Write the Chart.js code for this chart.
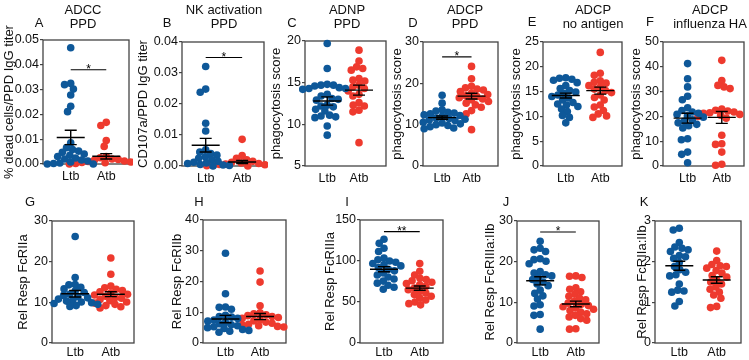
<!DOCTYPE html>
<html>
<head>
<meta charset="utf-8">
<script src="https://cdn.jsdelivr.net/npm/chart.js@4.4.1/dist/chart.umd.min.js"></script>
<style>
  html, body { margin: 0; padding: 0; background: #fff; }
  #fig { position: relative; width: 749px; height: 360px; overflow: hidden; background: #fff; }
  #fig canvas { position: absolute; }
</style>
</head>
<body>
<div id="fig"></div>
<script>
'use strict';

const groups = ['Ltb', 'Atb'];

// A - ADCC PPD
const aLtb = [0.0469, 0.0325, 0.032, 0.0302, 0.0278, 0.0233, 0.0211, 0.0085, 0.0066, 0.0058, 0.0052, 0.0047, 0.004, 0.0035, 0.003, 0.0024, 0.002, 0.0016, 0.0012, 0.0008, 0.0004, 0.0002, 0.0, 0.0];
const aAtb = [0.0168, 0.0155, 0.0095, 0.0071, 0.003, 0.0025, 0.002, 0.0018, 0.0015, 0.0012, 0.001, 0.0008, 0.0006, 0.0005, 0.0003, 0.0002, 0.0001, 0.0];
const aMean = [0.0107, 0.0031];
const aSem = [0.0029, 0.0011];
const aTicks = [0, 0.01, 0.02, 0.03, 0.04, 0.05];

// B - NK activation PPD
const bLtb = [0.0321, 0.0248, 0.0238, 0.0138, 0.0113, 0.0052, 0.0045, 0.004, 0.0035, 0.003, 0.0025, 0.002, 0.0015, 0.0012, 0.001, 0.0008, 0.0005, 0.0003, 0.0002, 0.0];
const bAtb = [0.0086, 0.0034, 0.0025, 0.002, 0.0015, 0.0012, 0.001, 0.0008, 0.0006, 0.0005, 0.0004, 0.0003, 0.0002, 0.0001, 0.0, 0.0];
const bMean = [0.0067, 0.0013];
const bSem = [0.0022, 0.0005];
const bTicks = [0, 0.01, 0.02, 0.03, 0.04];

// C - ADNP PPD
const cLtb = [19.7, 16.7, 14.8, 14.7, 14.7, 14.6, 14.4, 14.3, 14.3, 14.2, 13.6, 13.4, 13.1, 13.0, 12.9, 12.3, 12.2, 12.1, 11.8, 11.6, 11.1, 11.0, 10.9, 10.8, 9.8, 8.7];
const cAtb = [18.9, 17.6, 16.9, 16.7, 16.5, 15.5, 15.3, 15.2, 14.7, 14.5, 14.3, 14.0, 13.6, 13.4, 12.6, 12.3, 12.2, 11.7, 11.5, 7.8];
const cMean = [12.8, 14.1];
const cSem = [0.5, 0.6];
const cTicks = [5, 10, 15, 20];

// D - ADCP PPD
const dLtb = [17.1, 15.2, 13.6, 13.3, 13.0, 12.8, 12.6, 12.4, 12.2, 12.0, 11.8, 11.6, 11.5, 11.3, 11.1, 11.0, 10.8, 10.6, 10.4, 10.2, 10.0, 9.8, 9.5, 9.2, 9.0];
const dAtb = [24.1, 21.1, 19.3, 18.9, 18.6, 18.4, 18.0, 17.6, 17.3, 17.0, 16.8, 16.5, 16.2, 16.0, 15.6, 15.2, 14.8, 14.2, 13.4, 12.6, 8.8];
const dMean = [11.7, 16.9];
const dSem = [0.4, 0.7];
const dTicks = [0, 10, 20, 30];

// E - ADCP no antigen
const eLtb = [17.8, 17.7, 17.5, 17.3, 16.8, 16.2, 15.6, 15.2, 14.9, 14.6, 14.3, 14.0, 13.7, 13.3, 12.8, 12.5, 12.3, 12.0, 11.5, 11.0, 10.2, 9.8, 8.7];
const eAtb = [22.9, 18.7, 18.3, 17.2, 16.9, 16.7, 16.2, 15.9, 15.5, 15.2, 14.8, 14.3, 13.8, 13.3, 12.3, 11.9, 11.2, 10.5, 10.1, 9.8];
const eMean = [14.2, 15.2];
const eSem = [0.5, 0.7];
const eTicks = [0, 5, 10, 15, 20, 25];

// F - ADCP influenza HA
const fLtb = [41.3, 35.2, 31.9, 28.1, 26.7, 23.5, 22.4, 21.8, 21.3, 20.8, 20.2, 19.7, 18.6, 18.0, 17.4, 16.8, 16.2, 15.3, 11.0, 10.6, 5.6, 4.7, 1.3];
const fAtb = [42.6, 34.5, 32.5, 31.9, 31.2, 23.0, 22.5, 22.2, 21.8, 21.5, 21.2, 20.8, 20.5, 20.0, 19.3, 12.4, 9.0, 8.7, 5.6, 0.7, 0.3];
const fMean = [19.3, 19.6];
const fSem = [2.0, 2.4];
const fTicks = [0, 10, 20, 30, 40, 50];

// G - FcRIIa
const gLtb = [26.2, 16.1, 14.4, 14.3, 13.7, 13.3, 12.8, 12.4, 12.0, 11.7, 11.4, 11.1, 10.8, 10.5, 10.3, 10.1, 9.9, 9.7, 9.5, 9.2, 9.0];
const gAtb = [20.9, 16.9, 14.0, 13.6, 13.2, 12.9, 12.6, 12.3, 12.0, 11.8, 11.5, 11.2, 11.0, 10.7, 10.4, 10.1, 9.8, 9.5, 9.2, 8.9, 8.6];
const gMean = [12.1, 12.0];
const gSem = [0.8, 0.6];
const gTicks = [0, 10, 20, 30];

// H - FcRIIb
const hLtb = [29.2, 16.0, 11.7, 11.6, 11.0, 9.0, 8.6, 8.4, 8.0, 7.5, 7.1, 6.7, 6.3, 5.9, 5.6, 5.3, 5.0, 4.7, 4.4, 4.1, 3.8, 3.5];
const hAtb = [23.4, 19.8, 12.1, 9.8, 9.5, 9.2, 8.9, 8.6, 8.3, 8.0, 7.6, 7.2, 6.8, 6.4, 6.1, 5.8, 5.6, 5.4, 5.2];
const hMean = [7.8, 8.6];
const hSem = [1.2, 1.0];
const hTicks = [0, 10, 20, 30, 40];

// I - FcRIIIa
const iLtb = [126.5, 121.5, 115.5, 111.5, 103.5, 101.5, 100.0, 98.5, 97.0, 95.5, 94.0, 92.0, 90.0, 88.0, 85.5, 83.0, 80.5, 78.0, 75.5, 73.0, 70.5, 68.0, 65.5];
const iAtb = [97.0, 87.5, 83.0, 79.0, 77.5, 76.0, 74.0, 72.5, 71.0, 69.0, 67.0, 65.0, 63.0, 61.0, 59.0, 57.0, 55.0, 52.5, 50.0, 48.0, 46.5];
const iMean = [90.0, 66.9];
const iSem = [3.2, 2.6];
const iTicks = [0, 50, 100, 150];

// J - FcRIIIa:IIb
const jLtb = [25.0, 23.3, 22.9, 22.5, 20.7, 20.5, 20.1, 19.5, 17.6, 17.2, 16.8, 16.5, 16.1, 15.6, 15.0, 14.5, 14.1, 13.0, 12.2, 11.6, 10.8, 9.4, 9.1, 7.0, 6.8, 3.4];
const jAtb = [16.5, 16.4, 16.1, 13.6, 13.2, 12.6, 12.0, 11.5, 11.0, 10.6, 10.2, 9.8, 9.5, 9.2, 8.9, 8.6, 8.3, 8.0, 7.6, 7.2, 6.8, 6.4, 6.0, 5.6, 3.5, 3.4];
const jMean = [15.3, 9.6];
const jSem = [1.0, 0.7];
const jTicks = [0, 10, 20, 30];

// K - FcRIIa:IIb
const kLtb = [2.82, 2.78, 2.47, 2.36, 2.33, 2.29, 2.25, 2.15, 2.12, 2.08, 1.98, 1.88, 1.80, 1.74, 1.68, 1.65, 1.45, 1.30, 1.28, 1.25, 1.02, 0.91];
const kAtb = [2.26, 2.03, 1.93, 1.90, 1.88, 1.84, 1.78, 1.72, 1.66, 1.62, 1.55, 1.50, 1.45, 1.38, 1.32, 1.25, 1.18, 1.10, 0.90, 0.87];
const kMean = [1.90, 1.55];
const kSem = [0.11, 0.08];
const kTicks = [0, 1, 2, 3];

const BLUE = '#0e5899';
const RED = '#ee3a2e';
const FRAME = '#444';
const FONT = '"Liberation Sans", Arial, Helvetica, sans-serif';
const R = 3.8;

// box = plot area [left, top, right, bottom] in page pixels
const panels = [
  {letter: 'A', title: ['ADCC', 'PPD'], yTitle: '% dead cells/PPD IgG titer', ltb: aLtb, atb: aAtb, mean: aMean, sem: aSem, ticks: aTicks, dec: 2, sig: [0.038, '*'],
   box: [43, 40, 130, 164], top: 0, yTitleX: 10, letterXY: [39, 23], titleX: 83, xr: [0.22, 2.64]},
  {letter: 'B', title: ['NK activation', 'PPD'], yTitle: 'CD107a/PPD IgG titer', ltb: bLtb, atb: bAtb, mean: bMean, sem: bSem, ticks: bTicks, dec: 2, sig: [0.035, '*'],
   box: [182, 42, 265, 166], top: 0, yTitleX: 144, letterXY: [167, 23], titleX: 224, xr: [0.35, 2.6]},
  {letter: 'C', title: ['ADNP', 'PPD'], yTitle: 'phagocytosis score', ltb: cLtb, atb: cAtb, mean: cMean, sem: cSem, ticks: cTicks, dec: 0, sig: null,
   box: [305, 41, 387, 166], top: 0, yTitleX: 277, letterXY: [292, 23], titleX: 347, xr: [0.3, 2.85]},
  {letter: 'D', title: ['ADCP', 'PPD'], yTitle: 'phagocytosis score', ltb: dLtb, atb: dAtb, mean: dMean, sem: dSem, ticks: dTicks, dec: 0, sig: [26.4, '*'],
   box: [423, 42, 499, 166], top: 0, yTitleX: 398, letterXY: [413, 23], titleX: 465, xr: [0.35, 2.9]},
  {letter: 'E', title: ['ADCP', 'no antigen'], yTitle: 'phagocytosis score', ltb: eLtb, atb: eAtb, mean: eMean, sem: eSem, ticks: eTicks, dec: 0, sig: null,
   box: [543, 42, 623, 166], top: 0, yTitleX: 517, letterXY: [532, 22], titleX: 593, xr: [0.34, 2.63]},
  {letter: 'F', title: ['ADCP', 'influenza HA'], yTitle: 'phagocytosis score', ltb: fLtb, atb: fAtb, mean: fMean, sem: fSem, ticks: fTicks, dec: 0, sig: null,
   box: [663, 42, 745, 166], top: 0, yTitleX: 637, letterXY: [650, 22], titleX: 710, xr: [0.28, 2.65]},
  {letter: 'G', title: [], yTitle: 'Rel Resp FcRIIa', ltb: gLtb, atb: gAtb, mean: gMean, sem: gSem, ticks: gTicks, dec: 0, sig: null,
   box: [52, 221, 135, 343], top: 178, yTitleX: 24, letterXY: [30, 202], titleX: 0, xr: [0.35, 2.65]},
  {letter: 'H', title: [], yTitle: 'Rel Resp FcRIIb', ltb: hLtb, atb: hAtb, mean: hMean, sem: hSem, ticks: hTicks, dec: 0, sig: null,
   box: [203, 220, 287, 343], top: 178, yTitleX: 178, letterXY: [199, 202], titleX: 0, xr: [0.35, 2.75]},
  {letter: 'I', title: [], yTitle: 'Rel Resp FcRIIIa', ltb: iLtb, atb: iAtb, mean: iMean, sem: iSem, ticks: iTicks, dec: 0, sig: [135.8, '**'],
   box: [360, 220, 444, 343], top: 178, yTitleX: 331, letterXY: [347, 202], titleX: 0, xr: [0.33, 2.65]},
  {letter: 'J', title: [], yTitle: 'Rel Resp FcRIIIa:IIb', ltb: jLtb, atb: jAtb, mean: jMean, sem: jSem, ticks: jTicks, dec: 0, sig: [27.3, '*'],
   box: [517, 221, 600, 343], top: 178, yTitleX: 491, letterXY: [506, 202], titleX: 0, xr: [0.35, 2.65]},
  {letter: 'K', title: [], yTitle: 'Rel Resp FcRIIa:IIb', ltb: kLtb, atb: kAtb, mean: kMean, sem: kSem, ticks: kTicks, dec: 0, sig: null,
   box: [655, 221, 742, 343], top: 178, yTitleX: 643, letterXY: [644, 202], titleX: 0, xr: [0.35, 2.65]}
];

function decoPlugin(p, cl, ct) {
  return {
    id: 'deco' + p.letter,
    beforeDatasetsDraw(chart) {
      const {ctx, chartArea: a} = chart;
      ctx.save();
      ctx.strokeStyle = FRAME;
      ctx.lineWidth = 1.3;
      ctx.strokeRect(a.left, a.top, a.right - a.left, a.bottom - a.top);
      ctx.restore();
    },
    afterDatasetsDraw(chart) {
      const {ctx} = chart;
      const xs = chart.scales.x, ys = chart.scales.y;
      ctx.save();
      ctx.strokeStyle = '#000';
      ctx.lineWidth = 1.4;
      for (let g = 0; g < 2; g++) {
        const cx = xs.getPixelForValue(g + 1);
        const my = ys.getPixelForValue(p.mean[g]);
        const hi = ys.getPixelForValue(p.mean[g] + p.sem[g]);
        const lo = ys.getPixelForValue(p.mean[g] - p.sem[g]);
        ctx.beginPath();
        ctx.moveTo(cx - 14, my); ctx.lineTo(cx + 14, my);
        ctx.moveTo(cx, hi); ctx.lineTo(cx, lo);
        ctx.moveTo(cx - 6, hi); ctx.lineTo(cx + 6, hi);
        ctx.moveTo(cx - 6, lo); ctx.lineTo(cx + 6, lo);
        ctx.stroke();
      }
      if (p.sig) {
        const sy = ys.getPixelForValue(p.sig[0]);
        const x1 = xs.getPixelForValue(1), x2 = xs.getPixelForValue(2);
        ctx.lineWidth = 1.2;
        ctx.beginPath();
        ctx.moveTo(x1, sy); ctx.lineTo(x2, sy);
        ctx.stroke();
        ctx.fillStyle = '#000';
        ctx.font = '12px ' + FONT;
        ctx.textAlign = 'center';
        ctx.textBaseline = 'alphabetic';
        ctx.fillText(p.sig[1], (x1 + x2) / 2, sy + 3);
      }
      // panel letter and title
      ctx.fillStyle = '#111';
      ctx.font = '13px ' + FONT;
      ctx.textAlign = 'center';
      ctx.textBaseline = 'middle';
      ctx.fillText(p.letter, p.letterXY[0] - cl, p.letterXY[1] - ct);
      p.title.forEach((t, k) => ctx.fillText(t, p.titleX - cl, 10 + k * 14 - ct));
      ctx.restore();
    }
  };
}

// simple beeswarm: push each point sideways until it clears the ones already placed
function swarm(chart, di) {
  const xs = chart.scales.x, ys = chart.scales.y;
  const ppu = xs.getPixelForValue(1) - xs.getPixelForValue(0);
  const pts = chart.data.datasets[di].data.slice().sort((u, v) => v.y - u.y);
  const d = 6.3;
  const placed = [];
  pts.forEach(pt => {
    const py = ys.getPixelForValue(pt.y);
    const near = placed.filter(q => Math.abs(q.py - py) < d);
    const cands = [0];
    near.forEach(q => {
      const w = Math.sqrt(d * d - (q.py - py) * (q.py - py));
      cands.push(q.px - w, q.px + w);
    });
    cands.sort((u, v) => Math.abs(u) - Math.abs(v));
    const px = cands.find(c => near.every(q => (q.px - c) ** 2 + (q.py - py) ** 2 >= d * d - 0.05));
    placed.push({px: px, py: py});
    pt.x = di + 1 + px / ppu;
  });
}

const fig = document.getElementById('fig');

panels.forEach(p => {
  const [L, T, Rt, B] = p.box;
  const cl = Math.round(p.yTitleX - 7.8);
  const ct = p.top;
  const cv = document.createElement('canvas');
  cv.width = Rt + 3 - cl;
  cv.height = B + 22 - ct;
  cv.style.left = cl + 'px';
  cv.style.top = ct + 'px';
  fig.appendChild(cv);

  const chart = new Chart(cv, {
    type: 'scatter',
    data: {
      datasets: [
        {data: p.ltb.map(v => ({x: 1, y: v})), backgroundColor: BLUE, borderWidth: 0, pointRadius: R, clip: 6},
        {data: p.atb.map(v => ({x: 2, y: v})), backgroundColor: RED, borderWidth: 0, pointRadius: R, clip: 6}
      ]
    },
    options: {
      responsive: false,
      animation: false,
      events: [],
      layout: {padding: {left: 0, top: T - ct, right: 3, bottom: 0}},
      plugins: {legend: {display: false}, tooltip: {enabled: false}},
      scales: {
        x: {
          type: 'linear', min: p.xr[0], max: p.xr[1],
          afterBuildTicks: s => { s.ticks = [{value: 1}, {value: 2}]; },
          afterFit: s => { s.height = 22; },
          ticks: {callback: (v, i) => groups[i], color: '#111', font: {family: FONT, size: 12.5}, padding: ct === 0 ? 5 : 2, maxRotation: 0},
          grid: {display: false, drawTicks: false},
          border: {display: false}
        },
        y: {
          min: p.ticks[0], max: p.ticks[p.ticks.length - 1],
          afterBuildTicks: s => { s.ticks = p.ticks.map(v => ({value: v})); },
          afterFit: s => { s.width = L - cl; },
          ticks: {callback: v => v.toFixed(p.dec), color: '#111', font: {family: FONT, size: 12.5}, padding: 1},
          grid: {drawOnChartArea: false, drawTicks: true, tickLength: 3, color: FRAME, lineWidth: 1.2},
          border: {display: false},
          title: {display: true, text: p.yTitle, color: '#111', font: {family: FONT, size: 13}, padding: 0}
        }
      }
    },
    plugins: [decoPlugin(p, cl, ct)]
  });

  swarm(chart, 0);
  swarm(chart, 1);
  chart.update('none');
});
</script>
</body>
</html>
